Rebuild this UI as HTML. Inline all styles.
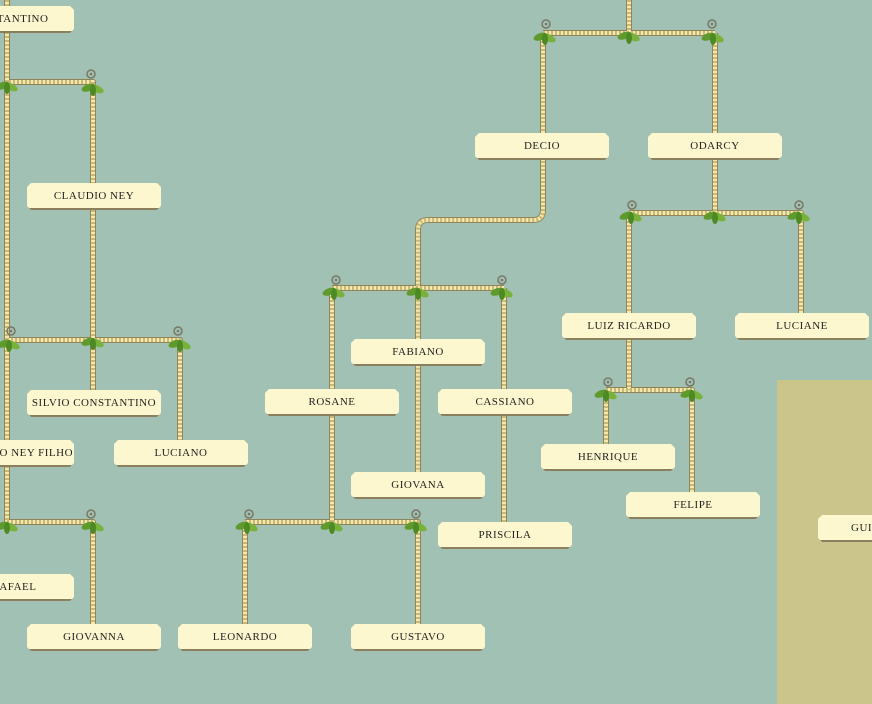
<!DOCTYPE html>
<html style="overflow:hidden"><head><style>
body{margin:0;width:872px;height:704px;overflow:hidden;background:#a0c1b3;position:relative;font-family:"Liberation Serif",serif}
.b{position:absolute;width:134px;height:25px;background:#fdf7d0;clip-path:polygon(4px 0,calc(100% - 4px) 0,100% 4px,100% calc(100% - 4px),calc(100% - 4px) 100%,4px 100%,0 calc(100% - 4px),0 4px);font-size:11px;letter-spacing:.5px;color:#222;text-align:center;line-height:26px;text-transform:uppercase;white-space:nowrap;border-bottom:2px solid #8c7f5e;box-sizing:content-box}
svg{position:absolute;left:0;top:0}
</style></head><body>
<div style="position:absolute;left:777px;top:380px;width:95px;height:324px;background:#cbc48b"></div>
<svg width="872" height="704">
<defs>
<g id="lf"><ellipse cx="-5" cy="0" rx="7" ry="3.5" fill="#5f9a2c" transform="rotate(-20)"/><ellipse cx="5" cy="1" rx="7" ry="3.5" fill="#78b23a" transform="rotate(25)"/><ellipse cx="0" cy="4" rx="3" ry="6" fill="#4e8a24"/></g>
<g id="cu"><circle cx="0" cy="0" r="4" fill="none" stroke="#7a7666" stroke-width="1.5"/><circle cx="0" cy="0" r="1.3" fill="#7a7666"/></g>
</defs>
<g fill="none" stroke-linejoin="round">
<path d="M7 0V82H93V340M7 82V525M7 340H180V440M93 340V390M7 522H93V624
M629 0V33M543 33H715M543 33V210Q543 220 533 220H428Q418 220 418 230V472M332 288H504M332 288V522M504 288V522M245 522H418V624M245 522V624
M715 33V213M629 213H801V313M629 213V390M606 390H692V492M606 390V444" stroke="#8f8458" stroke-width="6"/>
<path d="M7 0V82H93V340M7 82V525M7 340H180V440M93 340V390M7 522H93V624
M629 0V33M543 33H715M543 33V210Q543 220 533 220H428Q418 220 418 230V472M332 288H504M332 288V522M504 288V522M245 522H418V624M245 522V624
M715 33V213M629 213H801V313M629 213V390M606 390H692V492M606 390V444" stroke="#f3e9b0" stroke-width="4"/>
<path d="M7 0V82H93V340M7 82V525M7 340H180V440M93 340V390M7 522H93V624
M629 0V33M543 33H715M543 33V210Q543 220 533 220H428Q418 220 418 230V472M332 288H504M332 288V522M504 288V522M245 522H418V624M245 522V624
M715 33V213M629 213H801V313M629 213V390M606 390H692V492M606 390V444" stroke="#c9b874" stroke-width="4" stroke-dasharray="2 2"/>
</g>
<use href="#cu" x="91" y="74"/><use href="#cu" x="11" y="331"/><use href="#cu" x="178" y="331"/><use href="#cu" x="91" y="514"/>
<use href="#cu" x="546" y="24"/><use href="#cu" x="712" y="24"/><use href="#cu" x="336" y="280"/><use href="#cu" x="502" y="280"/>
<use href="#cu" x="249" y="514"/><use href="#cu" x="416" y="514"/><use href="#cu" x="632" y="205"/><use href="#cu" x="799" y="205"/><use href="#cu" x="690" y="382"/><use href="#cu" x="608" y="382"/>
<use href="#lf" x="7" y="84"/><use href="#lf" x="93" y="86"/><use href="#lf" x="93" y="340"/><use href="#lf" x="9" y="342"/><use href="#lf" x="180" y="342"/>
<use href="#lf" x="7" y="524"/><use href="#lf" x="93" y="524"/><use href="#lf" x="629" y="34"/><use href="#lf" x="545" y="35"/><use href="#lf" x="713" y="35"/>
<use href="#lf" x="418" y="290"/><use href="#lf" x="334" y="290"/><use href="#lf" x="502" y="290"/><use href="#lf" x="332" y="524"/><use href="#lf" x="247" y="524"/><use href="#lf" x="416" y="524"/>
<use href="#lf" x="715" y="214"/><use href="#lf" x="631" y="214"/><use href="#lf" x="799" y="214"/><use href="#lf" x="606" y="392"/><use href="#lf" x="692" y="392"/>
</svg>
<div class="b" style="left:-60px;top:6px">Constantino</div>
<div class="b" style="left:27px;top:183px">Claudio Ney</div>
<div class="b" style="left:27px;top:390px">Silvio Constantino</div>
<div class="b" style="left:-60px;top:440px;text-indent:14px">Claudio Ney Filho</div>
<div class="b" style="left:114px;top:440px">Luciano</div>
<div class="b" style="left:-60px;top:574px;text-indent:14px">Rafael</div>
<div class="b" style="left:27px;top:624px">Giovanna</div>
<div class="b" style="left:178px;top:624px">Leonardo</div>
<div class="b" style="left:351px;top:624px">Gustavo</div>
<div class="b" style="left:265px;top:389px">Rosane</div>
<div class="b" style="left:351px;top:339px">Fabiano</div>
<div class="b" style="left:438px;top:389px">Cassiano</div>
<div class="b" style="left:351px;top:472px">Giovana</div>
<div class="b" style="left:438px;top:522px">Priscila</div>
<div class="b" style="left:475px;top:133px">Decio</div>
<div class="b" style="left:648px;top:133px">Odarcy</div>
<div class="b" style="left:562px;top:313px">Luiz Ricardo</div>
<div class="b" style="left:735px;top:313px">Luciane</div>
<div class="b" style="left:541px;top:444px">Henrique</div>
<div class="b" style="left:626px;top:492px">Felipe</div>
<div class="b" style="left:818px;top:515px;text-align:left;padding-left:33px;width:54px;overflow:hidden">Guilherme</div>
</body></html>
